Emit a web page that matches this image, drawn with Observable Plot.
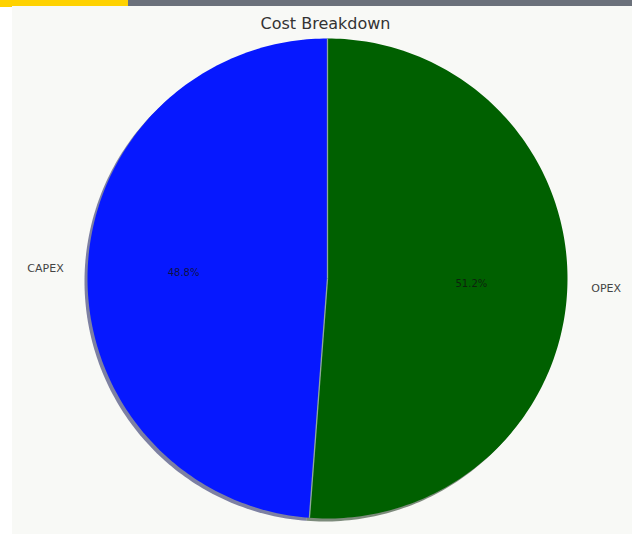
<!DOCTYPE html>
<html>
<head>
<meta charset="utf-8">
<script src="https://cdn.jsdelivr.net/npm/d3@7"></script>
<script src="https://cdn.jsdelivr.net/npm/@observablehq/plot@0.6"></script>
<style>
  html, body { margin: 0; padding: 0; background: #ffffff; width: 632px; height: 534px; overflow: hidden; }
  #topbar { position: absolute; left: 0; top: 0; width: 632px; height: 6px; background: #6b717b; }
  #topbar .yellow { position: absolute; left: 0; top: 0; width: 128px; height: 7px; background: #ffd200; }
  #chart { position: absolute; left: 12px; top: 6px; width: 620px; height: 528px; background: #f8f9f6; }
  #chart svg { display: block; background: #f8f9f6; }
</style>
</head>
<body>
<div id="topbar"><div class="yellow"></div></div>
<div id="chart"></div>
<script>
// ---- data ----
const title = "Cost Breakdown";
const categories = ["CAPEX", "OPEX"];
const shares = [48.8, 51.2];
const sliceColors = ["#0618ff", "#006000"];
const percentLabels = ["48.8%", "51.2%"];

// ---- derived geometry (matplotlib-style: start at top, counter-clockwise) ----
const pie = d3.pie().sort(null).startAngle(0).endAngle(-2 * Math.PI);
const arcs = pie(shares);

function shadowOf(c) {
  const r = d3.rgb(c);
  return d3.rgb(r.r * 0.3, r.g * 0.3, r.b * 0.3).formatHex();
}

const wedgePts = [];
arcs.forEach((a, i) => {
  const n = 180;
  wedgePts.push({cat: categories[i], color: sliceColors[i], shadow: shadowOf(sliceColors[i]), x: 0, y: 0});
  for (let k = 0; k <= n; k++) {
    const t = a.startAngle + (a.endAngle - a.startAngle) * k / n;
    wedgePts.push({cat: categories[i], color: sliceColors[i], shadow: shadowOf(sliceColors[i]), x: Math.sin(t), y: Math.cos(t)});
  }
});

const boundaries = arcs.map(a => ({x: Math.sin(a.startAngle), y: Math.cos(a.startAngle)}));

const labels = arcs.map((a, i) => {
  const m = (a.startAngle + a.endAngle) / 2;
  return {
    name: categories[i],
    pct: percentLabels[i],
    lx: 1.1 * Math.sin(m), ly: 1.1 * Math.cos(m),
    px: 0.6 * Math.sin(m), py: 0.6 * Math.cos(m),
    anchor: Math.sin(m) < 0 ? "end" : "start"
  };
});

const W = 620, H = 528, R = 240, cx = 315, cy = 272;

const chart = Plot.plot({
  width: W,
  height: H,
  margin: 0,
  style: {background: "#f8f9f6", fontFamily: "DejaVu Sans, sans-serif"},
  x: {domain: [-cx / R, (W - cx) / R], range: [0, W], axis: null},
  y: {domain: [-(H - cy) / R, cy / R], range: [H, 0], axis: null},
  marks: [
    // shadow
    Plot.line(wedgePts, {x: "x", y: "y", z: "cat", fill: "shadow", fillOpacity: 0.5, stroke: "none", curve: "linear-closed", dx: -3, dy: 3}),
    // wedges
    Plot.line(wedgePts, {x: "x", y: "y", z: "cat", fill: "color", stroke: "none", curve: "linear-closed"}),
    // thin light boundary lines between wedges
    Plot.link(boundaries, {x1: 0, y1: 0, x2: "x", y2: "y", stroke: "#8fa89c", strokeWidth: 1.3}),
    // category labels
    Plot.text(labels.filter(d => d.anchor === "end"), {x: "lx", y: "ly", text: "name", textAnchor: "end", fontSize: 11, fill: "#444"}),
    Plot.text(labels.filter(d => d.anchor === "start"), {x: "lx", y: "ly", text: "name", textAnchor: "start", fontSize: 11, fill: "#444"}),
    // percentage labels
    Plot.text(labels, {x: "px", y: "py", text: "pct", fontSize: 10, fill: "#111", fillOpacity: 0.8}),
    // title
    Plot.text([title], {frameAnchor: "top", dx: 3, dy: 11, text: d => d, fontSize: 16, fill: "#333"})
  ]
});

document.getElementById("chart").appendChild(chart);
</script>
</body>
</html>
